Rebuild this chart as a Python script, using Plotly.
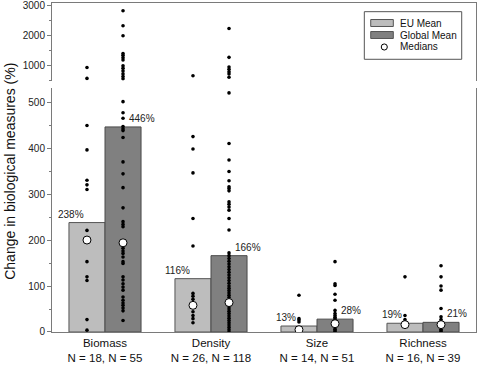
import plotly.graph_objects as go

# ---------------- data ----------------
categories = ["Biomass", "Density", "Size", "Richness"]
n_eu = [18, 26, 14, 16]
n_global = [55, 118, 51, 39]
eu_mean = [238, 116, 13, 19]
global_mean = [446, 166, 28, 21]
eu_median = [200, 58, 5, 16]
global_median = [194, 64, 18, 16]

biomass_eu_pts = [940, 580, 449, 396, 330, 320, 310, 221, 153, 120, 112, 27, 4]
biomass_global_pts = [2830, 2330, 2000, 1410, 1350, 1270, 1190, 1000, 920, 830, 730,
                      640, 570, 501, 477, 465, 447, 442, 438, 423, 370, 344, 314, 270,
                      240, 234, 229, 187, 182, 176, 171, 163, 153, 149, 120, 113, 105,
                      98, 91, 76, 69, 63, 58, 52, 46, 25]
density_eu_pts = [670, 425, 398, 346, 247, 187, 84, 78, 71, 44, 36, 29, 20]
density_global_pts = [2240, 1280, 960, 880, 800, 730, 620, 520, 410, 374, 349, 329, 316,
                      312, 307, 283, 278, 272, 265, 247, 222, 172, 166, 160, 154, 148,
                      142, 136, 130, 124, 118, 112, 106, 100, 95, 90, 85, 80, 75, 70,
                      65, 60, 55, 50, 45, 40, 35, 30, 25, 20, 15, 10, 5, 0]
size_eu_pts = [80, 29, 26, 22]
size_global_pts = [153, 105, 101, 82, 69, 47, 40, 36, 32, 29, 25, 22, 14, 10, 6, 3, 0]
richness_eu_pts = [120, 36, 27, 22]
richness_global_pts = [144, 120, 100, 91, 51, 33, 27, 22, 10, 6, 3, 0]

eu_points = [biomass_eu_pts, density_eu_pts, size_eu_pts, richness_eu_pts]
global_points = [biomass_global_pts, density_global_pts, size_global_pts, richness_global_pts]

# ---------------- style ----------------
FONT = "Liberation Sans, Arial, sans-serif"
EU_COL = "#bdbdbd"
GL_COL = "#808080"
EDGE = "#555555"
AXIS = "#7a7a7a"
LOW_MAX = 530      # top of lower panel
UP_MIN, UP_MAX = 500, 3086
BW = 0.34          # bar width (category units)

idx = list(range(len(categories)))
ticktext = [f"{c}<br>N = {a}, N = {b}" for c, a, b in zip(categories, n_eu, n_global)]

fig = go.Figure()

fig.add_trace(go.Bar(x=idx, y=eu_mean, width=BW, offset=-BW, name="EU Mean",
                     marker=dict(color=EU_COL, line=dict(color=EDGE, width=1)),
                     showlegend=False))
fig.add_trace(go.Bar(x=idx, y=global_mean, width=BW, offset=0, name="Global Mean",
                     marker=dict(color=GL_COL, line=dict(color="#4a4a4a", width=1)),
                     showlegend=False))

def split_points(groups, shift):
    lx, ly, ux, uy = [], [], [], []
    for i, pts in enumerate(groups):
        for v in pts:
            if v <= LOW_MAX:
                lx.append(i + shift); ly.append(v)
            else:
                ux.append(i + shift); uy.append(v)
    return lx, ly, ux, uy

dot = dict(color="black", size=3.6)
for groups, shift in [(eu_points, -BW / 2), (global_points, BW / 2)]:
    lx, ly, ux, uy = split_points(groups, shift)
    fig.add_trace(go.Scatter(x=lx, y=ly, mode="markers", marker=dot,
                             showlegend=False, xaxis="x", yaxis="y"))
    fig.add_trace(go.Scatter(x=ux, y=uy, mode="markers", marker=dot,
                             showlegend=False, xaxis="x2", yaxis="y2"))

med_marker = dict(color="white", size=8, line=dict(color="black", width=1))
fig.add_trace(go.Scatter(x=[i - BW / 2 for i in idx], y=eu_median, mode="markers",
                         marker=med_marker, showlegend=False))
fig.add_trace(go.Scatter(x=[i + BW / 2 for i in idx], y=global_median, mode="markers",
                         marker=med_marker, showlegend=False))

# percent labels
for i in idx:
    fig.add_annotation(x=i - BW / 2, y=eu_mean[i], text=f"{eu_mean[i]}%", showarrow=False,
                       xanchor="right", yanchor="bottom", xshift=-1, yshift=1,
                       font=dict(family=FONT, size=10, color="#222"))
    fig.add_annotation(x=i + BW / 2, y=global_mean[i], text=f"{global_mean[i]}%",
                       showarrow=False, xanchor="left", yanchor="bottom", xshift=4, yshift=1,
                       font=dict(family=FONT, size=10, color="#222"))

# y title
fig.add_annotation(xref="paper", yref="paper", x=-0.099, y=0.487, textangle=-90,
                   text="Change in biological measures (%)", showarrow=False,
                   xanchor="center", yanchor="middle",
                   font=dict(family=FONT, size=14, color="#111"))

# manual legend
legend_items = ["EU Mean", "Global Mean", "Medians"]
row_y = [0.9392, 0.9027, 0.8663]
shapes = [dict(type="rect", xref="paper", yref="paper", x0=0.7366, x1=0.9663,
               y0=0.8289, y1=0.9736, line=dict(color="#555", width=1),
               fillcolor="white", layer="above")]
for col, ry in zip([EU_COL, GL_COL], row_y[:2]):
    shapes.append(dict(type="rect", xref="paper", yref="paper", x0=0.7517, x1=0.8050,
                       y0=ry - 0.0106, y1=ry + 0.0106, line=dict(color=EDGE, width=1),
                       fillcolor=col, layer="above"))
shapes.append(dict(type="circle", xref="paper", yref="paper", x0=0.7837 - 0.0072,
                   x1=0.7837 + 0.0072, y0=row_y[2] - 0.0093, y1=row_y[2] + 0.0093,
                   line=dict(color="black", width=1), fillcolor="white", layer="above"))
for t, ry in zip(legend_items, row_y):
    fig.add_annotation(xref="paper", yref="paper", x=0.8168, y=ry, text=t,
                       showarrow=False, xanchor="left", yanchor="middle",
                       font=dict(family=FONT, size=10, color="#111"))

fig.update_layout(
    width=482, height=366,
    margin=dict(l=52, r=6, t=3, b=34),
    paper_bgcolor="white", plot_bgcolor="white",
    barmode="overlay", shapes=shapes, hovermode=False,
    font=dict(family=FONT, size=10, color="#222"),
    xaxis=dict(range=[-0.5, 3.5], tickmode="array", tickvals=idx, ticktext=ticktext,
               showline=True, linecolor=AXIS, linewidth=1, ticks="", showgrid=False,
               zeroline=False, anchor="y", automargin=False,
               tickfont=dict(family=FONT, size=11.5, color="#111")),
    xaxis2=dict(matches="x", anchor="y2", side="top", showline=True, linecolor=AXIS,
                linewidth=1, showticklabels=False, ticks="", showgrid=False, zeroline=False),
    yaxis=dict(domain=[0, 0.7407], range=[0, LOW_MAX], tickmode="linear", tick0=0, dtick=100,
               ticks="outside", ticklen=4, tickcolor=AXIS, showline=True, linecolor=AXIS,
               linewidth=1, mirror=True, showgrid=False, zeroline=False, automargin=False,
               minor=dict(dtick=50, ticks="outside", ticklen=2, tickcolor=AXIS),
               tickfont=dict(family=FONT, size=10, color="#222")),
    yaxis2=dict(domain=[0.7635, 1], range=[UP_MIN, UP_MAX], tickmode="linear", tick0=0,
                dtick=1000, ticks="outside", ticklen=4, tickcolor=AXIS, showline=True,
                linecolor=AXIS, linewidth=1, mirror=True, showgrid=False, zeroline=False,
                automargin=False,
                minor=dict(dtick=500, ticks="outside", ticklen=2, tickcolor=AXIS),
                tickfont=dict(family=FONT, size=10, color="#222")),
)

fig.write_html("out.html", config={"displayModeBar": False},
               post_script="document.body.style.margin='0';document.body.style.overflow='hidden';")
